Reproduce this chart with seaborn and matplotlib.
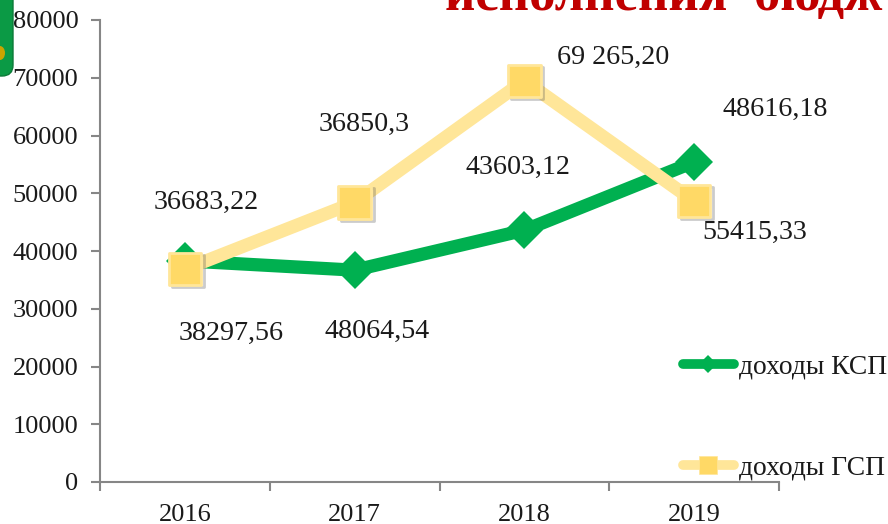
import matplotlib
matplotlib.use("Agg")
import matplotlib.pyplot as plt
import matplotlib.patheffects as pe
from matplotlib.lines import Line2D
from matplotlib.patches import FancyBboxPatch, Ellipse
import pandas as pd
import seaborn as sns

years = ["2016", "2017", "2018", "2019"]
ksp_values = [38297.56, 36683.22, 43603.12, 55415.33]
gsp_values = [36850.3, 48400.0, 69500.0, 48616.18]
series_names = ["доходы КСП", "доходы ГСП"]
y_ticks = [0, 10000, 20000, 30000, 40000, 50000, 60000, 70000, 80000]
point_labels = ["36683,22", "38297,56", "36850,3", "48064,54",
                "69 265,20", "43603,12", "48616,18", "55415,33"]
title_text = "исполнения  бюдж"

GREEN = "#00B050"
YELLOW_LINE = "#FFE699"
YELLOW_MARK = "#FFD966"
GRAY = "#868686"
FONT = "Liberation Serif"

sns.set_theme(style="white")
plt.rcParams["font.family"] = [FONT, "DejaVu Sans"]

fig = plt.figure(figsize=(8.88, 5.24), dpi=100)
W, H = 888, 524
ax = fig.add_axes([100 / W, 1 - 482 / H, (779 - 100) / W, (482 - 20) / H])
ax.patch.set_alpha(0)

df = pd.DataFrame({
    "pos": list(range(4)) * 2,
    "value": ksp_values + gsp_values,
    "series": [series_names[0]] * 4 + [series_names[1]] * 4,
})
shadow = [pe.SimpleLineShadow(offset=(2, -1.5), alpha=0.3, shadow_color="#555555"), pe.Normal()]
sns.lineplot(data=df[df.series == series_names[0]], x="pos", y="value", ax=ax,
             color=GREEN, lw=9.5, marker="D", ms=19, mec=GREEN, mew=0,
             legend=False, errorbar=None, zorder=3)
sns.lineplot(data=df[df.series == series_names[1]], x="pos", y="value", ax=ax,
             color=YELLOW_LINE, lw=9.5, legend=False,
             errorbar=None, zorder=4)
sns.scatterplot(data=df[df.series == series_names[1]], x="pos", y="value", ax=ax,
                color=YELLOW_MARK, marker="s", s=540, edgecolor=YELLOW_LINE, linewidth=2,
                legend=False, zorder=5, path_effects=shadow)

ax.set_xlim(-0.5, 3.5)
ax.set_ylim(0, 80000)
ax.set_xlabel("")
ax.set_ylabel("")
ax.set_yticks(y_ticks)
ax.set_yticklabels([str(t) for t in y_ticks])
ax.set_xticks([-0.5, 0.5, 1.5, 2.5, 3.5])
ax.set_xticklabels([])
ax.set_xticks(range(4), years, minor=True)
ax.tick_params(axis="y", which="major", left=True, length=6.5, width=1.5, color=GRAY,
               labelsize=19, labelcolor="#1a1a1a", pad=9)
ax.tick_params(axis="x", which="major", bottom=True, length=6.5, width=1.5, color=GRAY)
ax.tick_params(axis="x", which="minor", bottom=False, labelsize=19, labelcolor="#1a1a1a", pad=12)
for s in ["top", "right"]:
    ax.spines[s].set_visible(False)
for s in ["left", "bottom"]:
    ax.spines[s].set_color(GRAY)
    ax.spines[s].set_linewidth(1.5)

for lab, (px, py) in zip(point_labels, [(206, 202), (231, 333), (364, 124), (377, 331),
                                        (613, 57), (518, 167), (775, 109), (755, 232)]):
    fig.text(px / W, 1 - py / H, lab, ha="center", va="center", fontsize=20.2, color="#1a1a1a")

h1 = Line2D([], [], color=GREEN, lw=7, marker="D", ms=9.5, mew=0, solid_capstyle="round")
h2 = Line2D([], [], color=YELLOW_LINE, lw=7, marker="s", ms=13.5, mfc=YELLOW_MARK, mec=YELLOW_LINE,
            mew=0.5, solid_capstyle="round")
for h, name, py in zip([h1, h2], series_names, [367, 468]):
    fig.legend([h], [name], loc="center left", bbox_to_anchor=(683 / W, 1 - py / H), frameon=False,
               fontsize=19.8, handlelength=1.85, handletextpad=0.18, borderpad=0, borderaxespad=0,
               labelcolor="#1a1a1a")

fig.text(445 / W, 1 - 10 / H, title_text, color="#C00000", fontsize=38, fontweight="bold",
         ha="left", va="baseline")

badge = FancyBboxPatch((-30, H - 76), 43, 100, transform=None,
                       boxstyle="round,pad=0,rounding_size=11", fc="#0B9A45", ec="#0B7A38", lw=1,
                       clip_on=False)
fig.add_artist(badge)
fig.add_artist(Ellipse((0, H - 53), 10, 14, transform=None, fc="#C9A400", ec="none"))

fig.savefig("out.png", dpi=100)
